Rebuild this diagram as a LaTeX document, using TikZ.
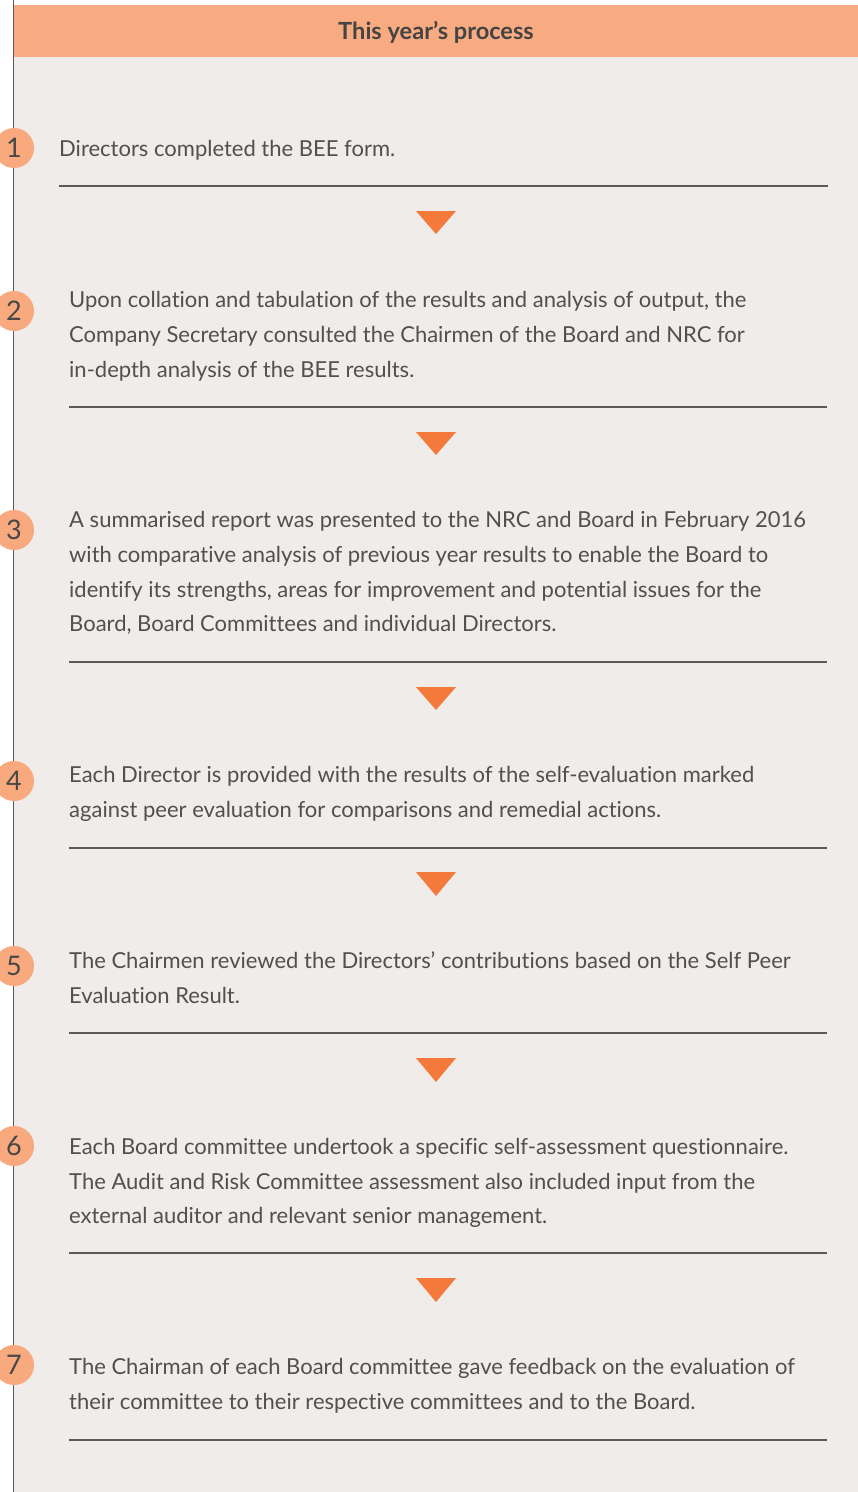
\documentclass[tikz,border=0pt]{standalone}
\usepackage{fontspec}
\setmainfont{Lato}[Ligatures=NoCommon]
\definecolor{bg}{HTML}{EFECE9}
\definecolor{hdr}{HTML}{F8AA80}
\definecolor{circ}{HTML}{F8A97E}
\definecolor{tri}{HTML}{F47A3C}
\definecolor{ink}{HTML}{505050}
\definecolor{rulec}{HTML}{5A5A5A}
\begin{document}
\begin{tikzpicture}[x=1pt,y=-1pt,
  txt/.style={anchor=base west,inner sep=0pt,text=ink,font=\fontsize{22}{35}\selectfont},
  numc/.style={circle,fill=circ,minimum size=40pt,inner sep=0pt,text=ink!90!black,font=\fontsize{27}{27}\selectfont},
  trishape/.style={fill=tri},
  rulel/.style={draw=rulec,line width=1.3pt},
  hdrtxt/.style={text=ink!85!black,font=\fontsize{23.6}{26}\selectfont\bfseries}]
\useasboundingbox (0,0) rectangle (858,1492);
\fill[white] (0,0) rectangle (858,1492);
\fill[bg] (14,57) rectangle (858,1492);
\fill[hdr] (14,5) rectangle (858,57);
\node[hdrtxt] (hdr) at (436,32) {This year’s process};
\draw[draw=rulec,line width=1.5pt] (13.5,0) -- (13.5,1492);
% step 1
\node[numc] (n1) at (14,148) {1};
\node[txt] (t1a) at (59,156) {Directors completed the BEE form.};
\coordinate (r1a) at (59,186); \coordinate (r1b) at (828,186);
\draw[rulel] (r1a) -- (r1b);
\fill[trishape] (416,211) -- (456,211) -- (436,234) -- cycle;
% step 2
\node[numc] (n2) at (14,311) {2};
\node[txt] (t2a) at (69,307) {Upon collation and tabulation of the results and analysis of output, the};
\node[txt] (t2b) at (69,342) {Company Secretary consulted the Chairmen of the Board and NRC for};
\node[txt] (t2c) at (69,377) {in-depth analysis of the BEE results.};
\coordinate (r2a) at (69,407); \coordinate (r2b) at (827,407);
\draw[rulel] (r2a) -- (r2b);
\fill[trishape] (416,432) -- (456,432) -- (436,455) -- cycle;
% step 3
\node[numc] (n3) at (14,530) {3};
\node[txt] (t3a) at (69,527) {A summarised report was presented to the NRC and Board in February 2016};
\node[txt] (t3b) at (69,562) {with comparative analysis of previous year results to enable the Board to};
\node[txt] (t3c) at (69,597) {identify its strengths, areas for improvement and potential issues for the};
\node[txt] (t3d) at (69,631) {Board, Board Committees and individual Directors.};
\coordinate (r3a) at (69,662); \coordinate (r3b) at (827,662);
\draw[rulel] (r3a) -- (r3b);
\fill[trishape] (416,687) -- (456,687) -- (436,710) -- cycle;
% step 4
\node[numc] (n4) at (14,781) {4};
\node[txt] (t4a) at (69,782) {Each Director is provided with the results of the self-evaluation marked};
\node[txt] (t4b) at (69,817) {against peer evaluation for comparisons and remedial actions.};
\coordinate (r4a) at (69,848); \coordinate (r4b) at (827,848);
\draw[rulel] (r4a) -- (r4b);
\fill[trishape] (416,872) -- (456,872) -- (436,896) -- cycle;
% step 5
\node[numc] (n5) at (14,966) {5};
\node[txt] (t5a) at (69,968) {The Chairmen reviewed the Directors’ contributions based on the Self Peer};
\node[txt] (t5b) at (69,1003) {Evaluation Result.};
\coordinate (r5a) at (69,1033); \coordinate (r5b) at (827,1033);
\draw[rulel] (r5a) -- (r5b);
\fill[trishape] (416,1058) -- (456,1058) -- (436,1082) -- cycle;
% step 6
\node[numc] (n6) at (14,1146) {6};
\node[txt] (t6a) at (69,1154) {Each Board committee undertook a specific self-assessment questionnaire.};
\node[txt] (t6b) at (69,1189) {The Audit and Risk Committee assessment also included input from the};
\node[txt] (t6c) at (69,1223) {external auditor and relevant senior management.};
\coordinate (r6a) at (69,1253); \coordinate (r6b) at (827,1253);
\draw[rulel] (r6a) -- (r6b);
\fill[trishape] (416,1278) -- (456,1278) -- (436,1302) -- cycle;
% step 7
\node[numc] (n7) at (14,1365) {7};
\node[txt] (t7a) at (69,1374) {The Chairman of each Board committee gave feedback on the evaluation of};
\node[txt] (t7b) at (69,1409) {their committee to their respective committees and to the Board.};
\coordinate (r7a) at (69,1440); \coordinate (r7b) at (827,1440);
\draw[rulel] (r7a) -- (r7b);
\end{tikzpicture}
\end{document}
